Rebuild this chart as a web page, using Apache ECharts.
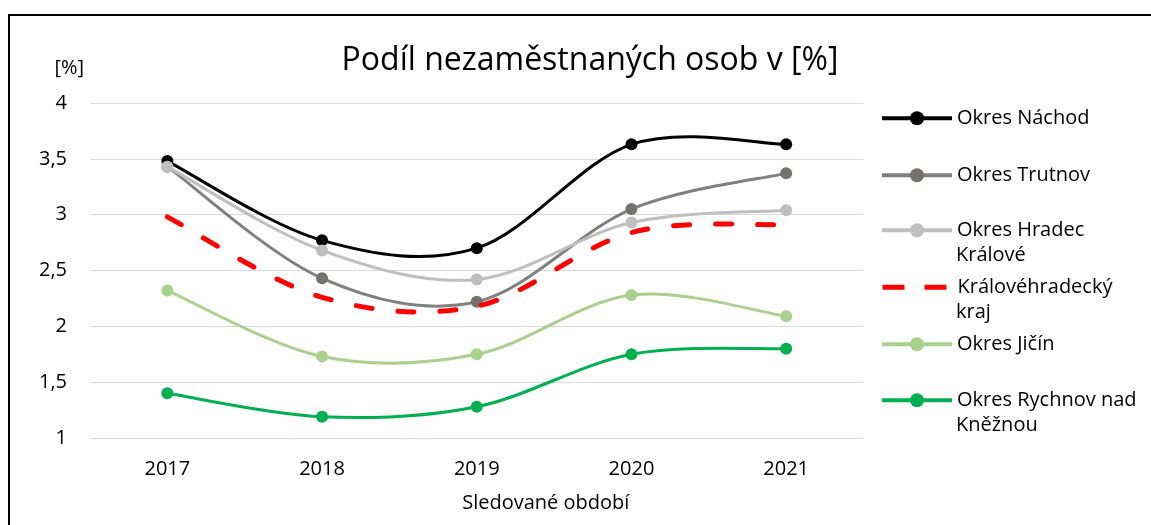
<!DOCTYPE html>
<html>
<head>
<meta charset="utf-8">
<script src="https://cdn.jsdelivr.net/npm/echarts@6/dist/echarts.min.js"></script>
<style>
html,body{margin:0;padding:0;background:#fff;overflow:hidden;}
#chart{width:1151px;height:525px;}
</style>
</head>
<body>
<div id="chart"></div>
<script>
const titleText = 'Podíl nezaměstnaných osob v [%]';
const xAxisTitle = 'Sledované období';
const yAxisTitle = '[%]';
const years = ['2017', '2018', '2019', '2020', '2021'];
const seriesNames = ['Okres Náchod', 'Okres Trutnov', 'Okres Hradec Králové', 'Královéhradecký kraj', 'Okres Jičín', 'Okres Rychnov nad Kněžnou'];
const legendLines = [['Okres Náchod'], ['Okres Trutnov'], ['Okres Hradec', 'Králové'], ['Královéhradecký', 'kraj'], ['Okres Jičín'], ['Okres Rychnov nad', 'Kněžnou']];
const nachod  = [3.48, 2.77, 2.70, 3.63, 3.63];
const trutnov = [3.43, 2.43, 2.22, 3.05, 3.37];
const hradec  = [3.43, 2.68, 2.42, 2.93, 3.04];
const kraj    = [2.98, 2.26, 2.18, 2.84, 2.91];
const jicin   = [2.32, 1.73, 1.75, 2.28, 2.09];
const rychnov = [1.40, 1.19, 1.28, 1.75, 1.80];
const yTicks = [1, 1.5, 2, 2.5, 3, 3.5, 4];

const values = [nachod, trutnov, hradec, kraj, jicin, rychnov];
const lineColors = ['#000000', '#808080', '#bfbfbf', '#ff0000', '#a9d18e', '#00b050'];
const markerColors = ['#000000', '#767171', '#bfbfbf', '#ff0000', '#a9d18e', '#00b050'];
const FONT = '"Open Sans", "Noto Sans", sans-serif';

const chart = echarts.init(document.getElementById('chart'), null, {renderer: 'canvas'});

// Excel-like smoothed curve (Catmull-Rom style Bezier) drawn through the axis scales
function smoothCurveSeries(vals, i) {
  const isKraj = i === 3;
  return {
    name: '_curve' + i,
    type: 'custom',
    coordinateSystem: 'cartesian2d',
    data: vals.map((v, k) => [k, v]),
    encode: {x: 0, y: 1},
    z: 2 + i,
    silent: true,
    renderItem: (params, api) => {
      if (params.dataIndex !== 0) return null;
      const pts = vals.map((v, k) => api.coord([k, v]));
      const n = pts.length;
      let d = 'M' + pts[0][0] + ',' + pts[0][1];
      for (let k = 0; k < n - 1; k++) {
        const p0 = pts[Math.max(k - 1, 0)], p1 = pts[k], p2 = pts[k + 1], p3 = pts[Math.min(k + 2, n - 1)];
        const c1x = p1[0] + (p2[0] - p0[0]) / 6, c1y = p1[1] + (p2[1] - p0[1]) / 6;
        const c2x = p2[0] - (p3[0] - p1[0]) / 6, c2y = p2[1] - (p3[1] - p1[1]) / 6;
        d += ' C' + c1x + ',' + c1y + ' ' + c2x + ',' + c2y + ' ' + p2[0] + ',' + p2[1];
      }
      return {
        type: 'path',
        shape: {pathData: d},
        style: {
          fill: 'none',
          stroke: lineColors[i],
          lineWidth: isKraj ? 5 : 3,
          lineDash: isKraj ? [16, 26] : null,
          lineCap: isKraj ? 'round' : 'butt',
          lineJoin: 'round'
        }
      };
    }
  };
}

function markerSeries(vals, i) {
  const isKraj = i === 3;
  return {
    name: seriesNames[i],
    type: 'line',
    data: vals,
    symbol: isKraj ? 'none' : 'circle',
    symbolSize: 12,
    showSymbol: !isKraj,
    lineStyle: {color: lineColors[i], width: 0, opacity: 0},
    itemStyle: {color: markerColors[i]},
    z: 2 + i,
    emphasis: {disabled: true}
  };
}

const series = [];
values.forEach((v, i) => {
  series.push(smoothCurveSeries(v, i));
  series.push(markerSeries(v, i));
});

const legendCenters = [115, 172, 227, 284, 341, 397];
const legends = seriesNames.map((n, i) => {
  const isKraj = i === 3;
  return {
    show: true,
    data: [{name: n, itemStyle: isKraj ? {opacity: 0} : {color: markerColors[i]}}],
    formatter: () => legendLines[i][0],
    left: 880,
    top: legendCenters[i] - 8.75,
    orient: 'vertical',
    padding: 0,
    itemWidth: 70,
    itemHeight: 17.5,
    selectedMode: false,
    lineStyle: {
      color: lineColors[i],
      width: isKraj ? 5 : 4,
      opacity: 1,
      type: isKraj ? [22, 20] : 'solid',
      cap: 'butt'
    },
    textStyle: {fontSize: 20, fontFamily: FONT, color: '#000', lineHeight: 24}
  };
});

const secondLines = [];
legendLines.forEach((l, i) => {
  if (l.length > 1) {
    secondLines.push({
      type: 'text',
      left: 956,
      top: legendCenters[i] + 29 - 11,
      style: {text: l[1], font: '20px ' + FONT, fill: '#000'}
    });
  }
});

chart.setOption({
  animation: false,
  backgroundColor: '#fff',
  title: {
    text: titleText,
    left: 585,
    top: 40,
    textAlign: 'center',
    textStyle: {fontSize: 32, fontWeight: 'normal', fontFamily: FONT, color: '#000'}
  },
  legend: legends,
  grid: {left: 90, right: 287.5, top: 103, bottom: 87, containLabel: false},
  xAxis: {
    type: 'category',
    data: years,
    boundaryGap: true,
    axisLine: {show: false},
    axisTick: {show: false},
    axisLabel: {fontSize: 20, fontFamily: FONT, color: '#000', margin: 21},
    name: xAxisTitle,
    nameLocation: 'middle',
    nameGap: 55,
    nameTextStyle: {fontSize: 20, fontFamily: FONT, color: '#000', padding: [0, 0, 0, 138]}
  },
  yAxis: {
    type: 'value',
    min: yTicks[0],
    max: yTicks[yTicks.length - 1],
    interval: 0.5,
    axisLine: {show: false},
    axisTick: {show: false},
    axisLabel: {
      fontSize: 20, fontFamily: FONT, color: '#000', margin: 23,
      formatter: v => String(v).replace('.', ',')
    },
    splitLine: {lineStyle: {color: '#d9d9d9', width: 1}},
    name: yAxisTitle,
    nameLocation: 'end',
    nameGap: 25,
    nameTextStyle: {fontSize: 20, fontFamily: FONT, color: '#000', align: 'right', padding: [0, 6, 0, 0]}
  },
  graphic: [
    {
      type: 'rect',
      shape: {x: 9, y: 15, width: 1400, height: 800},
      style: {fill: 'none', stroke: '#000', lineWidth: 2},
      silent: true
    }
  ].concat(secondLines),
  series: series
});
</script>
</body>
</html>
